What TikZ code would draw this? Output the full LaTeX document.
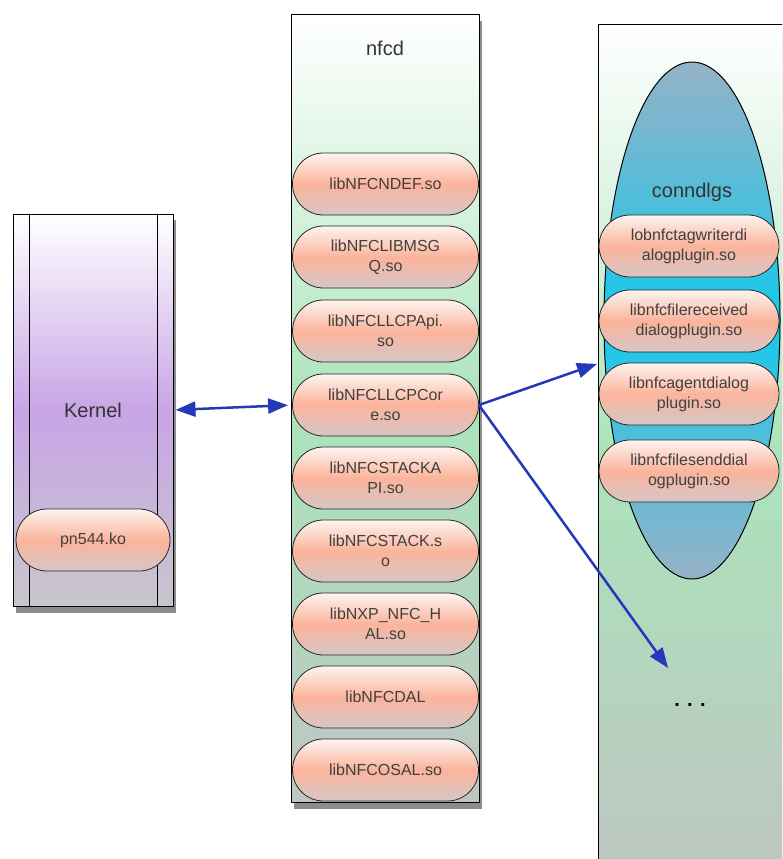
\documentclass[tikz,border=0pt]{standalone}
\usepackage{fontspec}
\setmainfont{Liberation Sans}
\usetikzlibrary{arrows.meta,shapes.misc,shapes.geometric}
\definecolor{linkblue}{RGB}{36,56,186}
\definecolor{libtop}{RGB}{253,244,240}
\definecolor{libmid}{RGB}{251,180,155}
\definecolor{libbot}{RGB}{214,198,198}
\definecolor{purmid}{RGB}{200,165,230}
\definecolor{purbot}{RGB}{200,198,205}
\definecolor{grnmid}{RGB}{170,228,186}
\definecolor{grnbot}{RGB}{190,198,194}
\definecolor{cyanmid}{RGB}{20,200,236}
\definecolor{cyanend}{RGB}{150,178,198}

\begin{document}
\begin{tikzpicture}[x=1pt,y=-1pt,line cap=round,line join=round,
  layer/.style={draw=black,line width=1pt},
  shadowbox/.style={fill=black,opacity=0.45},
  lib/.style={rounded rectangle,draw=black!85,line width=0.8pt,minimum height=62pt,
    top color=libtop,bottom color=libbot,middle color=libmid,align=center,inner sep=2pt,
    font=\fontsize{16}{20}\selectfont,text=black!75},
  title/.style={font=\fontsize{20}{24}\selectfont,text=black!80},
  link/.style={draw=linkblue,line width=2.5pt},
  tip/.style={-{Triangle[length=20pt,width=15pt]}},
  bothtips/.style={{Triangle[length=20pt,width=15pt]}-{Triangle[length=20pt,width=15pt]}}]
\useasboundingbox (0,0) rectangle (782,859);
\clip (0,0) rectangle (782,859);

% shadows
\fill[shadowbox] (16,220) rectangle (176,613);
\fill[shadowbox] (294,21) rectangle (482,809);
\fill[shadowbox] (601,31) rectangle (805,880);

% kernel
\node[layer,top color=white,bottom color=purbot,middle color=purmid,minimum width=160pt,minimum height=392pt] (kernel) at (93,410) {};
\draw[line width=1pt] (29,214) -- (29,606);
\draw[line width=1pt] (157,214) -- (157,606);
\node[title] (kerneltxt) at (93,410) {Kernel};
\node[lib,minimum width=158pt] (pn) at (93,540) {pn544.ko};

% nfcd
\node[layer,top color=white,bottom color=grnbot,middle color=grnmid,minimum width=188pt,minimum height=787pt] (nfcd) at (385,408.5) {};
\node[title] (nfcdtxt) at (385,48) {nfcd};
\node[lib,minimum width=190pt] (ndef) at (385.5,184) {libNFCNDEF.so};
\node[lib,minimum width=190pt] (msgq) at (385.5,257) {libNFCLIBMSG\\Q.so};
\node[lib,minimum width=190pt] (llcpapi) at (385.5,331) {libNFCLLCPApi.\\so};
\node[lib,minimum width=190pt] (llcpcore) at (385.5,405) {libNFCLLCPCor\\e.so};
\node[lib,minimum width=190pt] (stackapi) at (385.5,478) {libNFCSTACKA\\PI.so};
\node[lib,minimum width=190pt] (stack) at (385.5,551) {libNFCSTACK.s\\o};
\node[lib,minimum width=190pt] (hal) at (385.5,624) {libNXP\_NFC\_H\\AL.so};
\node[lib,minimum width=190pt] (dal) at (385.5,697) {libNFCDAL};
\node[lib,minimum width=190pt] (osal) at (385.5,770) {libNFCOSAL.so};

% conndlgs
\node[layer,top color=white,bottom color=grnbot,middle color=grnmid,minimum width=204pt,minimum height=854pt] (plugins) at (700,452) {};
\node[ellipse,draw=black,line width=1pt,top color=cyanend,bottom color=cyanend,middle color=cyanmid,minimum width=176pt,minimum height=517pt,inner sep=0pt] (conn) at (692,320.5) {};
\node[title] (conntxt) at (692,192) {conndlgs};
\node[lib,minimum width=184pt] (tagw) at (689,246) {lobnfctagwriterdi\\alogplugin.so};
\node[lib,minimum width=184pt] (filerec) at (689,321) {libnfcfilereceived\\dialogplugin.so};
\node[lib,minimum width=184pt] (agent) at (689,394) {libnfcagentdialog\\plugin.so};
\node[lib,minimum width=184pt] (filesend) at (689,471) {libnfcfilesenddial\\ogplugin.so};
\node[font=\fontsize{20}{24}\selectfont\bfseries] (dots) at (690,705) {. . .};
\coordinate (moretip) at (668,668);

% links
\draw[link,bothtips,shorten <=2pt,shorten >=4pt] (kernel.east) -- (llcpcore.west);
\draw[link,tip,shorten >=8pt] (llcpcore.east) -- (conn.205);
\draw[link,tip] (llcpcore.east) -- (moretip);
\end{tikzpicture}
\end{document}
